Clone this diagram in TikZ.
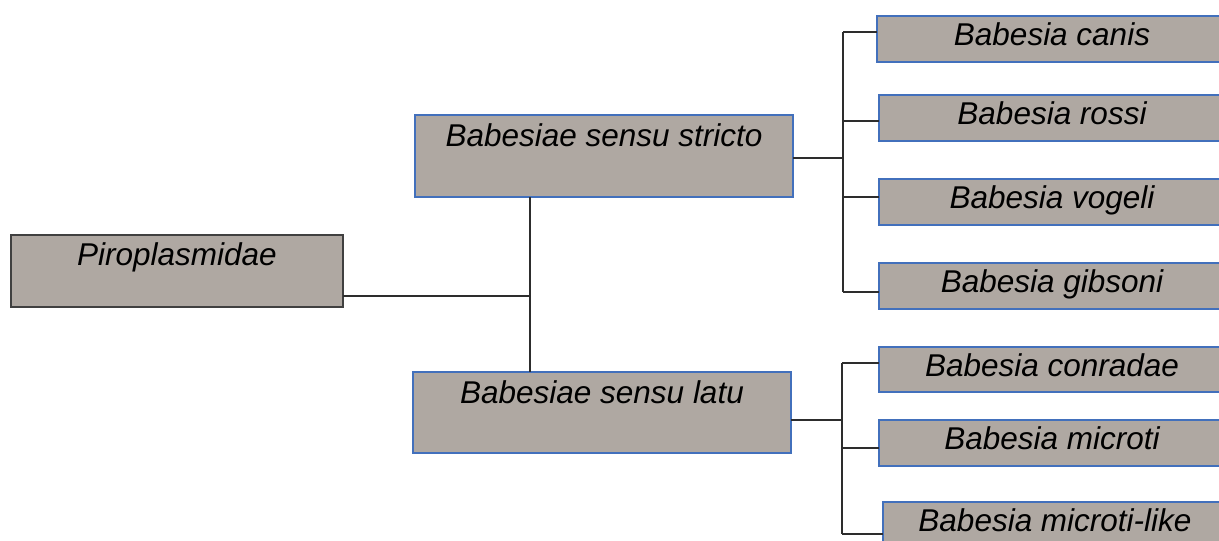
\documentclass[tikz,border=0pt]{standalone}
\usepackage{fontspec}
\setmainfont{Liberation Sans}
\definecolor{boxfill}{RGB}{175,168,162}
\definecolor{boxblue}{RGB}{66,112,188}
\definecolor{boxdark}{RGB}{64,64,64}
\definecolor{connc}{RGB}{45,45,45}
\begin{document}
\begin{tikzpicture}[x=1pt,y=-1pt,
  box/.style={draw=boxblue, line width=2pt, fill=boxfill, rectangle, inner sep=0pt, outer sep=0pt, anchor=north west},
  openbox/.style={draw=none, fill=boxfill, rectangle, inner sep=0pt, outer sep=0pt, anchor=north west, minimum width=360pt},
  edge/.style={draw=boxblue, line width=2pt},
  lbl/.style={anchor=base, inner sep=0pt, font=\itshape\fontsize{31.5}{36}\selectfont},
  conn/.style={draw=connc, line width=1.5pt}]
\useasboundingbox (0,0) rectangle (1219,541);
\clip (0,0) rectangle (1219,541);
% boxes
\node[box, draw=boxdark, minimum width=332pt, minimum height=72pt] (piro) at (11,235) {};
\node[box, minimum width=378pt, minimum height=82pt] (stricto) at (415,115) {};
\node[box, minimum width=378pt, minimum height=81pt] (latu) at (413,372) {};
\node[openbox, minimum height=46pt] (canis) at (877,16) {};
\node[openbox, minimum height=46pt] (rossi) at (879,95) {};
\node[openbox, minimum height=46pt] (vogeli) at (879,179) {};
\node[openbox, minimum height=46pt] (gibsoni) at (879,263) {};
\node[openbox, minimum height=45pt] (conradae) at (879,347) {};
\node[openbox, minimum height=46pt] (microti) at (879,420) {};
\node[openbox, minimum height=46pt] (mlike) at (883,502) {};
\foreach \b in {canis,rossi,vogeli,gibsoni,conradae,microti,mlike}
  \draw[edge] (\b.north east) -- (\b.north west) -- (\b.south west) -- (\b.south east);
% labels
\coordinate (tc) at (1052,0);
\coordinate (tl) at (1055,0);
\node[lbl] (piro-t) at ([yshift=-30pt]piro.north) {Piroplasmidae};
\node[lbl] (stricto-t) at ([yshift=-31pt]stricto.north) {Babesiae sensu stricto};
\node[lbl] (latu-t) at ([yshift=-31pt]latu.north) {Babesiae sensu latu};
\node[lbl] (canis-t) at ([yshift=-29pt]tc |- canis.north) {Babesia canis};
\node[lbl] (rossi-t) at ([yshift=-29pt]tc |- rossi.north) {Babesia rossi};
\node[lbl] (vogeli-t) at ([yshift=-29pt]tc |- vogeli.north) {Babesia vogeli};
\node[lbl] (gibsoni-t) at ([yshift=-29pt]tc |- gibsoni.north) {Babesia gibsoni};
\node[lbl] (conradae-t) at ([yshift=-29pt]tc |- conradae.north) {Babesia conradae};
\node[lbl] (microti-t) at ([yshift=-29pt]tc |- microti.north) {Babesia microti};
\node[lbl] (mlike-t) at ([yshift=-29pt]tl |- mlike.north) {Babesia microti-like};
% connectors
\coordinate (jt) at (530,296);
\coordinate (bs) at (843,0);
\coordinate (bl) at (842,0);
\draw[conn] (jt -| piro.east) -- (jt);
\draw[conn] (stricto.south -| jt) -- (latu.north -| jt);
\draw[conn] ([yshift=-2pt]stricto.east) -- ([yshift=-2pt]stricto.east -| bs);
\draw[conn] ([yshift=7pt]canis.west -| bs) -- ([yshift=-6pt]gibsoni.west -| bs);
\draw[conn] ([yshift=7pt]canis.west) -- ([yshift=7pt]canis.west -| bs);
\draw[conn] ([yshift=-3pt]rossi.west) -- ([yshift=-3pt]rossi.west -| bs);
\draw[conn] ([yshift=5pt]vogeli.west) -- ([yshift=5pt]vogeli.west -| bs);
\draw[conn] ([yshift=-6pt]gibsoni.west) -- ([yshift=-6pt]gibsoni.west -| bs);
\draw[conn] ([yshift=-7.5pt]latu.east) -- ([yshift=-7.5pt]latu.east -| bl);
\draw[conn] ([yshift=6.5pt]conradae.west -| bl) -- ([yshift=-9pt]mlike.west -| bl);
\draw[conn] ([yshift=6.5pt]conradae.west) -- ([yshift=6.5pt]conradae.west -| bl);
\draw[conn] ([yshift=-5pt]microti.west) -- ([yshift=-5pt]microti.west -| bl);
\draw[conn] ([yshift=-9pt]mlike.west) -- ([yshift=-9pt]mlike.west -| bl);
\end{tikzpicture}
\end{document}
